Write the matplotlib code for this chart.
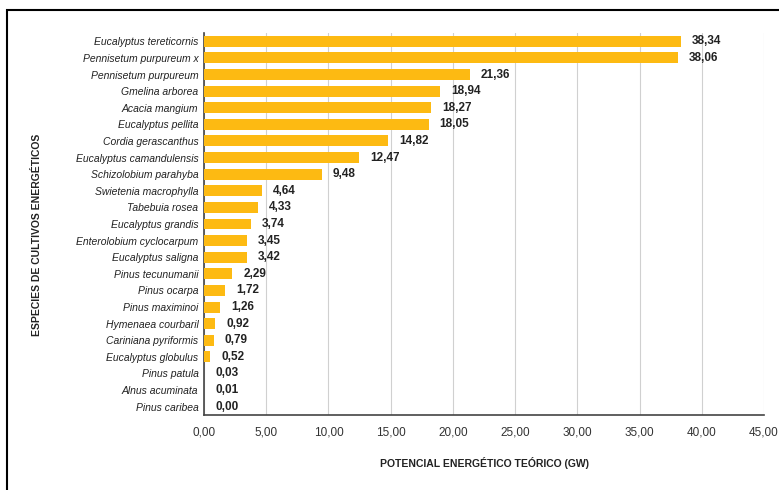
import numpy as np
import matplotlib.pyplot as plt
from matplotlib.patches import Rectangle

plt.rcParams['font.family'] = ['Liberation Sans', 'DejaVu Sans']

especies = ['Eucalyptus tereticornis', 'Pennisetum purpureum x', 'Pennisetum purpureum',
            'Gmelina arborea', 'Acacia mangium', 'Eucalyptus pellita', 'Cordia gerascanthus',
            'Eucalyptus camandulensis', 'Schizolobium parahyba', 'Swietenia macrophylla',
            'Tabebuia rosea', 'Eucalyptus grandis', 'Enterolobium cyclocarpum',
            'Eucalyptus saligna', 'Pinus tecunumanii', 'Pinus ocarpa', 'Pinus maximinoi',
            'Hymenaea courbaril', 'Cariniana pyriformis', 'Eucalyptus globulus',
            'Pinus patula', 'Alnus acuminata', 'Pinus caribea']
potencial = [38.34, 38.06, 21.36, 18.94, 18.27, 18.05, 14.82, 12.47, 9.48, 4.64,
             4.33, 3.74, 3.45, 3.42, 2.29, 1.72, 1.26, 0.92, 0.79, 0.52,
             0.03, 0.01, 0.00]
xticks = np.arange(0, 46, 5)


def coma(v):
    return ('%.2f' % v).replace('.', ',')


fig = plt.figure(figsize=(7.79, 4.9), dpi=100)
ax = fig.add_axes([204/779, 1-415/490, 560/779, 382/490])

y = np.arange(len(especies))
ax.barh(y, potencial, height=0.66, color='#FDBA12', zorder=3)
ax.set_ylim(len(especies) - 0.5, -0.5)
ax.set_xlim(0, 45)
ax.set_yticks(y)
ax.set_yticklabels(especies, fontstyle='italic', fontsize=7.5, color='#222222')
ax.set_xticks(xticks)
ax.set_xticklabels([coma(v) for v in xticks], fontsize=8.5, color='#333333')
ax.tick_params(axis='both', length=0)
ax.tick_params(axis='y', pad=4)
ax.tick_params(axis='x', pad=8.5)
ax.grid(axis='x', color='#d0d0d0', linewidth=0.8, zorder=0)

for s in ['top', 'right']:
    ax.spines[s].set_visible(False)
ax.spines['left'].set_color('#444444')
ax.spines['bottom'].set_color('#444444')
ax.spines['left'].set_linewidth(1.2)
ax.spines['bottom'].set_linewidth(1.2)

for yi, v in zip(y, potencial):
    ax.annotate(coma(v), (v, yi), xytext=(8, 0),
                textcoords='offset points', va='center', ha='left',
                fontsize=8.5, fontweight='bold', color='#222222')

ax.set_xlabel('POTENCIAL ENERGÉTICO TEÓRICO (GW)', fontsize=7.5, fontweight='bold',
              labelpad=13, color='#222222')
fig.text(37/779, 1-235/490, 'ESPECIES DE CULTIVOS ENERGÉTICOS', rotation=90,
         fontsize=7.5, fontweight='bold', ha='center', va='center', color='#222222')

fig.add_artist(Rectangle((7/779, -0.1), 1.0, 1 - 10/490 + 0.1, transform=fig.transFigure,
                         fill=False, edgecolor='black', linewidth=1.5))

fig.savefig('out.png', dpi=100)
